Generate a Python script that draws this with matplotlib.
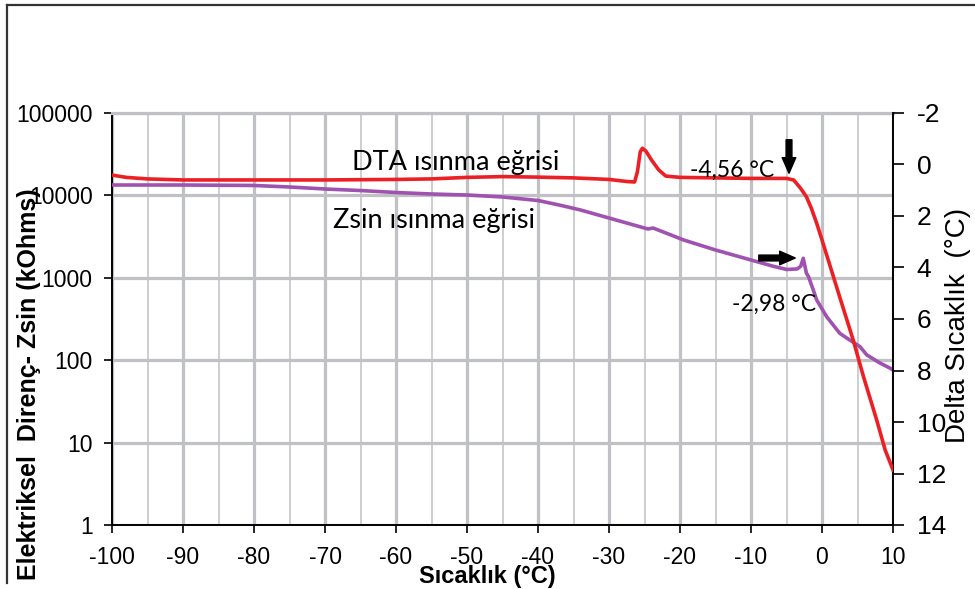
import matplotlib
matplotlib.use('Agg')
import matplotlib.pyplot as plt
from matplotlib.lines import Line2D
from matplotlib.ticker import NullLocator

# ---------------- data ----------------
zsin_temp = [-100, -90, -80, -75, -70, -65, -60, -55, -50, -45, -40, -37, -34, -31,
             -28, -26, -24.5, -23.8, -22, -19.5, -15, -10, -7, -5, -3.5, -3.0, -2.64,
             -2.2, -1.9, -1.2, -0.75, 0.66, 2.5, 3.9, 5.35, 6.3, 8.2, 9.6, 10]
zsin_res = [13370, 13370, 13200, 12650, 11960, 11460, 10840, 10400, 10110, 9570, 8670,
            7640, 6650, 5620, 4750, 4250, 3910, 4020, 3500, 2880, 2175, 1645, 1390,
            1262, 1280, 1380, 1725, 1143, 1031, 700, 538, 337, 212, 176, 146, 116,
            92, 80, 76]

dta_temp = [-100, -98, -95, -90, -80, -70, -60, -55, -50, -45, -40, -35, -30, -27.5,
            -26.4, -26.0, -25.6, -25.3, -24.8, -24, -23, -22, -20, -15, -10, -5, -4,
            -3.6, -3, -2.2, -1.5, -0.75, 0, 2.5, 4.4, 5.8, 7.7, 8.9, 10]
dta_delta = [0.41, 0.50, 0.56, 0.60, 0.60, 0.60, 0.58, 0.56, 0.50, 0.47, 0.49, 0.52,
             0.58, 0.66, 0.68, 0.29, -0.49, -0.63, -0.52, -0.17, 0.21, 0.45, 0.50,
             0.52, 0.54, 0.54, 0.60, 0.73, 0.93, 1.25, 1.70, 2.28, 2.93, 5.15, 6.82,
             8.20, 9.92, 11.09, 11.86]

x_major = list(range(-100, 11, 10))
x_minor = list(range(-95, 10, 10))
left_ticks = [1, 10, 100, 1000, 10000, 100000]
left_labels = ['1', '10', '100', '1000', '10000', '100000']
right_ticks = list(range(-2, 15, 2))

label_dta = 'DTA ısınma eğrisi'
label_zsin = 'Zsin ısınma eğrisi'
label_t1 = '-4,56 °C'
label_t2 = '-2,98 °C'
xlabel = 'Sıcaklık (°C)'
ylabel_left = 'Elektriksel  Direnç- Zsin (kOhms)'
ylabel_right = 'Delta Sıcaklık  (°C)'

# ---------------- styling ----------------
plt.rcParams['font.family'] = ['Liberation Sans', 'DejaVu Sans']
W, H = 975, 589
GRID = '#bfc1c4'
RED = '#ec1f24'
PURPLE = '#a052b0'

fig = plt.figure(figsize=(W / 100, H / 100), dpi=100)
ax = fig.add_axes([112 / W, 1 - 525 / H, (893 - 112) / W, (525 - 113) / H])
ax.set_xlim(-100, 10)
ax.set_yscale('log')
ax.set_ylim(1, 100000)
ax.set_xticks(x_major)
ax.set_xticks(x_minor, minor=True)
ax.set_xticklabels([str(v) for v in x_major])
ax.set_yticks(left_ticks)
ax.set_yticklabels(left_labels)
ax.yaxis.set_minor_locator(NullLocator())
ax.set_axisbelow(True)
ax.grid(True, which='major', color=GRID, lw=2.3)
ax.xaxis.grid(True, which='minor', color=GRID, lw=1.1)
ax.tick_params(axis='both', which='major', labelsize=16.5, length=6, width=1.2,
               direction='out', color='black', pad=8)
ax.tick_params(axis='x', which='minor', length=0)
ax.tick_params(axis='x', pad=9)
for s in ['left', 'bottom']:
    ax.spines[s].set_linewidth(1.4)
    ax.spines[s].set_color('black')
ax.spines['top'].set_color(GRID)
ax.spines['top'].set_linewidth(2.3)
ax.spines['right'].set_visible(False)

ax.plot(zsin_temp, zsin_res, color=PURPLE, lw=2.6, solid_joinstyle='round', zorder=3)

ax2 = ax.twinx()
ax2.set_ylim(14, -2)
ax2.set_yticks(right_ticks)
ax2.set_yticklabels([str(v) for v in right_ticks])
ax2.tick_params(axis='y', labelsize=19, length=8, width=1.2, direction='out', pad=9)
for s in ['left', 'bottom', 'top']:
    ax2.spines[s].set_visible(False)
ax2.spines['right'].set_linewidth(1.4)
ax2.plot(dta_temp, dta_delta, color=RED, lw=2.6, solid_joinstyle='round', zorder=3)

# ---------------- texts ----------------
def fx(px):
    return px / W

def fy(py):
    return 1 - py / H

ann_font = ['Lato', 'DejaVu Sans']
fig.text(fx(352), fy(170), label_dta, fontsize=19.5, family=ann_font, va='baseline', ha='left')
fig.text(fx(333), fy(228), label_zsin, fontsize=19.5, family=ann_font, va='baseline', ha='left')
fig.text(fx(690), fy(177), label_t1, fontsize=16.5, family=ann_font, va='baseline', ha='left')
fig.text(fx(732), fy(311), label_t2, fontsize=16.5, family=ann_font, va='baseline', ha='left')

fig.text(fx(487), fy(576), xlabel, fontsize=17, fontweight='bold', ha='center', va='center')
fig.text(fx(29), fy(384), ylabel_left, fontsize=18, fontweight='bold', rotation=90,
         ha='center', va='center')
fig.text(fx(958), fy(325), ylabel_right, fontsize=20, rotation=90, ha='center', va='center')

# arrows
fig.add_artist(matplotlib.patches.FancyArrowPatch(
    (fx(789), fy(137)), (fx(789), fy(176)), transform=fig.transFigure,
    arrowstyle='simple,head_length=0.8,head_width=0.7,tail_width=0.3',
    mutation_scale=14, color='black'))
fig.add_artist(matplotlib.patches.FancyArrowPatch(
    (fx(756), fy(258)), (fx(798), fy(258)), transform=fig.transFigure,
    arrowstyle='simple,head_length=0.8,head_width=0.7,tail_width=0.3',
    mutation_scale=14, color='black'))

# outer frame (left and top edges)
fig.add_artist(Line2D([fx(7), fx(7)], [fy(5), fy(583)], transform=fig.transFigure,
                      color='#333333', lw=1.6))
fig.add_artist(Line2D([fx(7), fx(975)], [fy(5), fy(5)], transform=fig.transFigure,
                      color='#333333', lw=1.6))

fig.savefig('out.png', dpi=100)
